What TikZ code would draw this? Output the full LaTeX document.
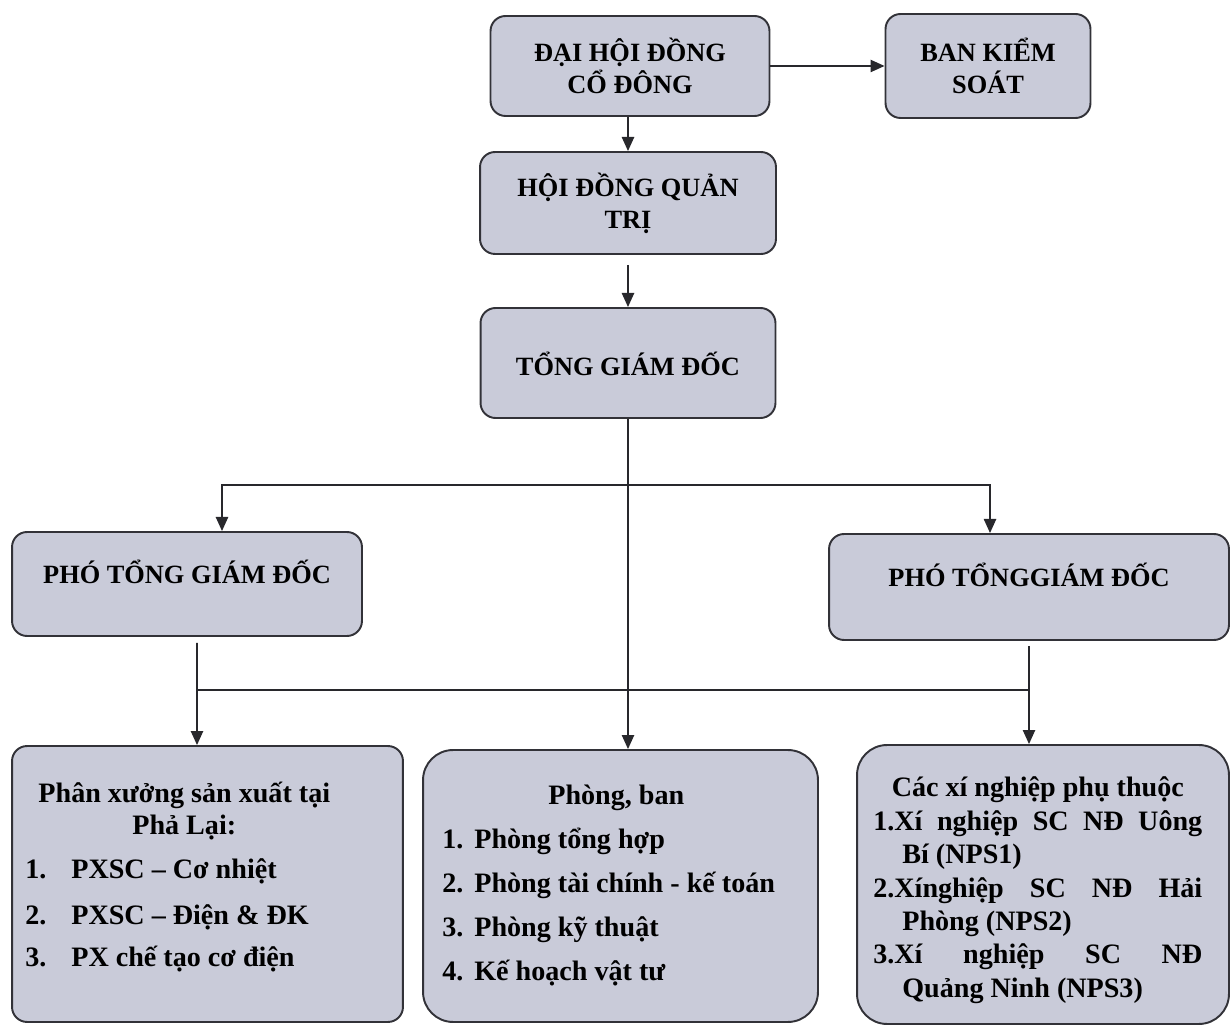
\documentclass[tikz,border=0pt]{standalone}
\usepackage{fontspec}
\setmainfont{Liberation Serif}
\usetikzlibrary{arrows.meta}

% lines of the lower boxes, smashed so that every row keeps the same spacing
\newcommand{\titleline}[2]{\smash{\makebox[#1]{#2}}}
\newcommand{\numline}[3]{\smash{\makebox[#1][l]{#2}#3}}
\newcommand{\fullline}[2]{\smash{\makebox[#1][s]{#2}}}
\newcommand{\indline}[2]{\smash{\hspace*{#1}#2}}

\begin{document}
\begin{tikzpicture}[x=0.02cm,y=-0.02cm,
    >={Triangle[length=8pt,width=7pt]},
    box/.style={draw={rgb,255:red,50; green,50; blue,56}, line width=1.1pt,
        fill={rgb,255:red,201; green,203; blue,217}, rounded corners=0.3cm,
        align=center, inner sep=0pt, font=\bfseries\fontsize{15}{18.2}\selectfont},
    roundbox/.style={box, rounded corners=0.6cm},
    listtext/.style={anchor=base west, inner sep=0pt, font=\bfseries\fontsize{16}{#1}\selectfont},
    link/.style={line width=0.9pt, color={rgb,255:red,40; green,40; blue,44}}]

    \useasboundingbox (0,0) rectangle (1231,1026);

    % board and control
    \node[box, minimum width=5.58cm, minimum height=2cm] (dhdcd) at (630,66) {ĐẠI HỘI ĐỒNG\\CỔ ĐÔNG};
    \node[box, minimum width=4.1cm, minimum height=2.08cm] (bks) at (988,66) {BAN KIỂM\\SOÁT};
    \node[box, minimum width=5.92cm, minimum height=2.04cm] (hdqt) at (628,203) {HỘI ĐỒNG QUẢN\\TRỊ};
    \node[box, minimum width=5.9cm, minimum height=2.2cm, text height=0.5cm] (tgd) at (628,363) {TỔNG GIÁM ĐỐC};

    % deputies
    \node[box, minimum width=7cm, minimum height=2.08cm, text depth=0.48cm] (ptgd1) at (187,584) {PHÓ TỔNG GIÁM ĐỐC};
    \node[box, minimum width=8cm, minimum height=2.12cm, text depth=0.48cm] (ptgd2) at (1029,587) {PHÓ TỔNGGIÁM ĐỐC};

    % units
    \node[box, minimum width=7.82cm, minimum height=5.52cm] (px) at (207.5,884) {};
    \node[roundbox, minimum width=7.9cm, minimum height=5.44cm] (pb) at (620.5,886) {};
    \node[roundbox, minimum width=7.44cm, minimum height=5.58cm] (xn) at (1043,884.5) {};

    \node[listtext=18.2] (pxtext) at (25,803) {\begin{tabular}[t]{@{}l@{}}
        \titleline{6.36cm}{Phân xưởng sản xuất tại}\\
        \titleline{6.36cm}{Phả Lại:}\\[6.8pt]
        \numline{0.92cm}{1.}{PXSC – Cơ nhiệt}\\[8pt]
        \numline{0.92cm}{2.}{PXSC – Điện \& ĐK}\\[5.7pt]
        \numline{0.92cm}{3.}{PX chế tạo cơ điện}
    \end{tabular}};
    \node[listtext=25] (pbtext) at (442,805) {\begin{tabular}[t]{@{}l@{}}
        \titleline{6.96cm}{Phòng, ban}\\
        \numline{0.64cm}{1.}{Phòng tổng hợp}\\
        \numline{0.64cm}{2.}{Phòng tài chính - kế toán}\\
        \numline{0.64cm}{3.}{Phòng kỹ thuật}\\
        \numline{0.64cm}{4.}{Kế hoạch vật tư}
    \end{tabular}};
    \node[listtext=19] (xntext) at (873,797) {\begin{tabular}[t]{@{}l@{}}
        \titleline{6.58cm}{Các xí nghiệp phụ thuộc}\\
        \fullline{6.58cm}{1.Xí nghiệp SC NĐ Uông}\\
        \indline{0.58cm}{Bí (NPS1)}\\
        \fullline{6.58cm}{2.Xínghiệp SC NĐ Hải}\\
        \indline{0.58cm}{Phòng (NPS2)}\\
        \fullline{6.58cm}{3.Xí nghiệp SC NĐ}\\
        \indline{0.58cm}{Quảng Ninh (NPS3)}
    \end{tabular}};

    % connectors
    \draw[link][->] (dhdcd.east) -- (bks.west);
    \draw[link][->] (hdqt.north |- dhdcd.south) -- (hdqt.north);
    \draw[link][->, shorten <=0.2cm] (hdqt.south) -- (tgd.north);
    \draw[link][->] (tgd.south) -- (tgd.south |- pb.north);

    \coordinate (fork) at (626,485);
    \draw[link][->] (fork) -| ([xshift=0.7cm]ptgd1.north);
    \draw[link][->] (fork) -| ([xshift=-0.78cm]ptgd2.north);

    \coordinate (joinL) at (197,690);
    \draw[link, shorten <=0.12cm] ([xshift=0.2cm]ptgd1.south) -- (joinL) -- (ptgd2.south |- joinL);
    \draw[link][->] (joinL) -- (joinL |- px.north);
    \draw[link][->, shorten <=0.1cm] (ptgd2.south) -- (ptgd2.south |- xn.north);
\end{tikzpicture}
\end{document}
